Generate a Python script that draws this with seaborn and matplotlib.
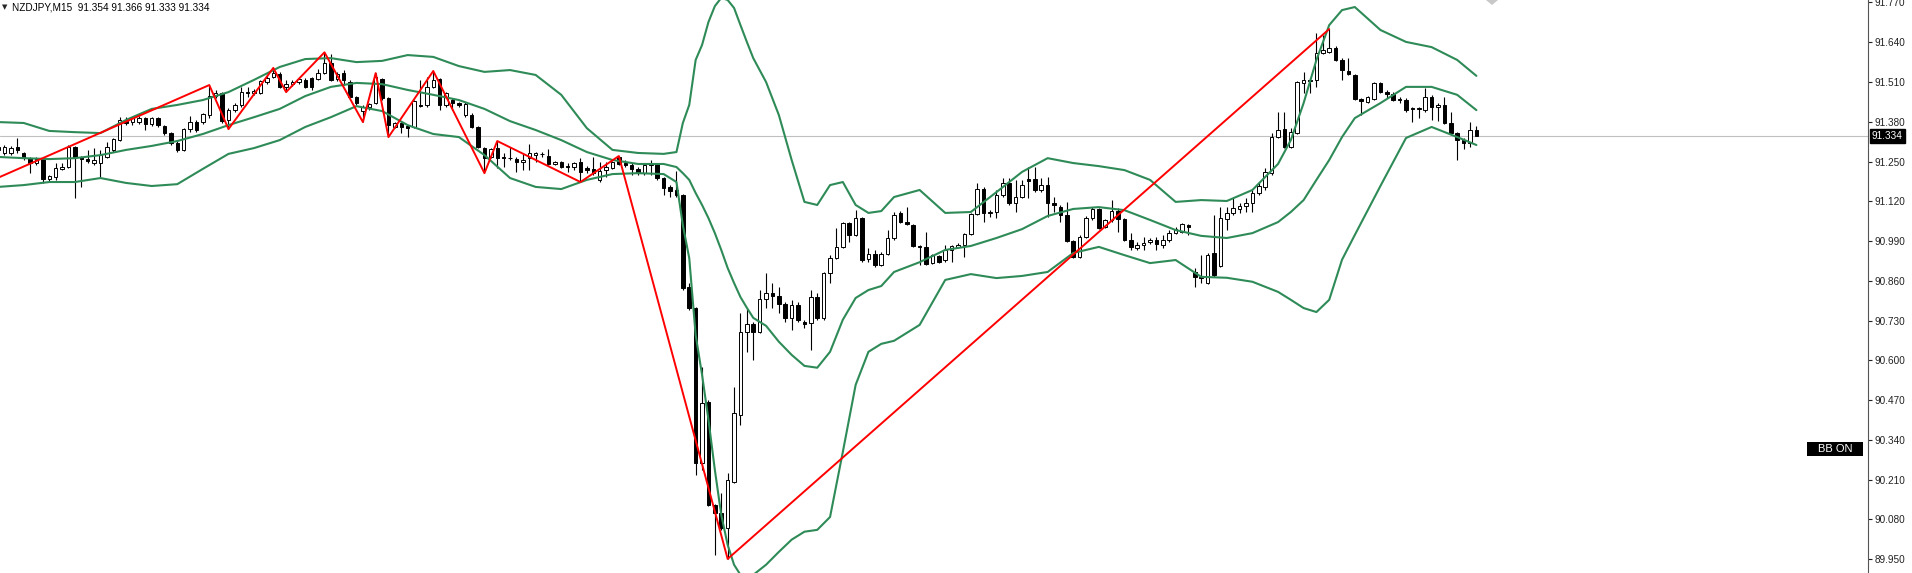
import matplotlib
matplotlib.use("Agg")
import numpy as np
import pandas as pd
import matplotlib.pyplot as plt
from matplotlib.patches import Rectangle, Polygon
import seaborn as sns

# chart header
symbol = "NZDJPY,M15"
last_ohlc = ["91.354", "91.366", "91.333", "91.334"]
last_price = 91.334
indicator_label = "BB ON"

# M15 candles, oldest first
opens = [
    91.288, 91.278, 91.278, 91.297, 91.278, 91.261, 91.245, 91.258, 91.193, 91.199,
    91.226, 91.232, 91.297, 91.265, 91.258, 91.245, 91.245, 91.265, 91.288, 91.320,
    91.382, 91.379, 91.379, 91.392, 91.373, 91.392, 91.366, 91.343, 91.310, 91.288,
    91.356, 91.379, 91.379, 91.402, 91.464, 91.474, 91.386, 91.418, 91.435, 91.477,
    91.474, 91.474, 91.510, 91.526, 91.536, 91.494, 91.503, 91.510, 91.517, 91.523,
    91.520, 91.539, 91.572, 91.520, 91.539, 91.510, 91.461, 91.415, 91.428, 91.441,
    91.520, 91.458, 91.363, 91.376, 91.366, 91.363, 91.435, 91.435, 91.494, 91.520,
    91.435, 91.451, 91.441, 91.402, 91.402, 91.363, 91.294, 91.265, 91.294, 91.265,
    91.261, 91.258, 91.248, 91.261, 91.271, 91.275, 91.268, 91.242, 91.248, 91.235,
    91.232, 91.248, 91.229, 91.226, 91.190, 91.222, 91.229, 91.265, 91.245, 91.239,
    91.226, 91.212, 91.239, 91.245, 91.196, 91.167, 91.157, 91.141, 90.840, 90.772,
    90.265, 90.464, 90.128, 90.102, 90.052, 90.203, 90.422, 90.693, 90.720, 90.693,
    90.800, 90.820, 90.810, 90.785, 90.739, 90.782, 90.726, 90.723, 90.807, 90.739,
    90.885, 90.934, 90.970, 91.049, 91.010, 91.065, 90.931, 90.948, 90.912, 90.948,
    91.000, 91.082, 91.052, 91.042, 90.974, 90.970, 90.918, 90.941, 90.928, 90.961,
    90.970, 90.977, 91.013, 91.078, 91.160, 91.082, 91.085, 91.141, 91.180, 91.114,
    91.134, 91.193, 91.193, 91.157, 91.173, 91.114, 91.101, 91.075, 90.990, 90.938,
    91.003, 91.065, 91.095, 91.036, 91.059, 91.088, 91.062, 90.993, 90.967, 90.977,
    90.987, 90.993, 90.977, 90.993, 91.016, 91.019, 91.042, 90.889, 90.873, 90.853,
    90.951, 90.908, 91.062, 91.082, 91.095, 91.104, 91.114, 91.147, 91.167, 91.212,
    91.330, 91.356, 91.297, 91.343, 91.507, 91.517, 91.517, 91.605, 91.608, 91.621,
    91.582, 91.546, 91.533, 91.454, 91.444, 91.454, 91.507, 91.477, 91.471, 91.454,
    91.451, 91.425, 91.425, 91.418, 91.461, 91.428, 91.435, 91.376, 91.343, 91.320,
    91.310, 91.354,
]
highs = [
    91.304, 91.304, 91.301, 91.327, 91.281, 91.265, 91.265, 91.261, 91.206, 91.245,
    91.245, 91.304, 91.301, 91.268, 91.288, 91.294, 91.288, 91.314, 91.327, 91.395,
    91.395, 91.395, 91.399, 91.395, 91.395, 91.395, 91.369, 91.346, 91.317, 91.359,
    91.399, 91.386, 91.409, 91.500, 91.484, 91.477, 91.425, 91.441, 91.494, 91.494,
    91.487, 91.517, 91.530, 91.556, 91.543, 91.517, 91.517, 91.526, 91.523, 91.526,
    91.553, 91.607, 91.600, 91.543, 91.549, 91.517, 91.464, 91.435, 91.441, 91.539,
    91.523, 91.461, 91.379, 91.379, 91.369, 91.451, 91.517, 91.526, 91.546, 91.523,
    91.477, 91.458, 91.444, 91.444, 91.409, 91.366, 91.297, 91.294, 91.317, 91.278,
    91.297, 91.265, 91.278, 91.307, 91.281, 91.281, 91.291, 91.252, 91.252, 91.245,
    91.248, 91.261, 91.235, 91.265, 91.248, 91.248, 91.252, 91.268, 91.255, 91.245,
    91.232, 91.245, 91.255, 91.246, 91.199, 91.173, 91.219, 91.144, 90.853, 90.775,
    90.579, 90.471, 90.131, 90.167, 90.232, 90.514, 90.755, 90.769, 90.726, 90.830,
    90.885, 90.853, 90.840, 90.791, 90.798, 90.791, 90.733, 90.830, 90.820, 90.889,
    90.944, 91.032, 91.052, 91.052, 91.091, 91.068, 90.967, 90.961, 90.954, 91.026,
    91.085, 91.088, 91.101, 91.046, 90.977, 91.019, 90.948, 90.944, 90.977, 90.977,
    90.983, 91.016, 91.082, 91.180, 91.167, 91.091, 91.157, 91.196, 91.196, 91.190,
    91.190, 91.232, 91.232, 91.196, 91.199, 91.134, 91.108, 91.118, 90.993, 91.010,
    91.072, 91.101, 91.098, 91.062, 91.124, 91.098, 91.065, 91.016, 90.987, 91.003,
    91.000, 91.003, 91.010, 91.026, 91.036, 91.049, 91.046, 90.902, 90.944, 90.951,
    91.075, 91.101, 91.101, 91.131, 91.114, 91.131, 91.157, 91.180, 91.229, 91.343,
    91.412, 91.412, 91.359, 91.513, 91.543, 91.523, 91.670, 91.664, 91.683, 91.628,
    91.588, 91.588, 91.536, 91.458, 91.463, 91.509, 91.509, 91.484, 91.477, 91.461,
    91.458, 91.428, 91.428, 91.490, 91.468, 91.441, 91.461, 91.412, 91.346, 91.327,
    91.379, 91.366,
]
lows = [
    91.281, 91.271, 91.271, 91.278, 91.255, 91.212, 91.239, 91.180, 91.186, 91.190,
    91.222, 91.229, 91.131, 91.167, 91.245, 91.239, 91.196, 91.261, 91.281, 91.317,
    91.369, 91.369, 91.373, 91.353, 91.366, 91.363, 91.337, 91.304, 91.281, 91.284,
    91.346, 91.346, 91.373, 91.392, 91.458, 91.376, 91.356, 91.412, 91.428, 91.461,
    91.468, 91.471, 91.503, 91.523, 91.490, 91.477, 91.497, 91.503, 91.490, 91.484,
    91.517, 91.536, 91.513, 91.513, 91.500, 91.458, 91.435, 91.379, 91.418, 91.438,
    91.451, 91.330, 91.359, 91.343, 91.330, 91.359, 91.428, 91.428, 91.490, 91.418,
    91.428, 91.418, 91.428, 91.395, 91.359, 91.294, 91.212, 91.261, 91.229, 91.232,
    91.255, 91.216, 91.222, 91.222, 91.248, 91.265, 91.239, 91.239, 91.229, 91.216,
    91.222, 91.183, 91.212, 91.206, 91.183, 91.199, 91.226, 91.239, 91.232, 91.206,
    91.206, 91.206, 91.206, 91.190, 91.141, 91.134, 91.134, 90.830, 90.765, 90.226,
    90.242, 90.124, 89.964, 90.046, 89.951, 90.200, 90.389, 90.628, 90.602, 90.690,
    90.772, 90.772, 90.755, 90.726, 90.700, 90.726, 90.706, 90.635, 90.733, 90.733,
    90.853, 90.931, 90.967, 90.987, 91.006, 90.921, 90.921, 90.905, 90.908, 90.944,
    90.993, 91.049, 91.042, 90.970, 90.912, 90.912, 90.915, 90.918, 90.921, 90.921,
    90.967, 90.938, 91.010, 91.075, 91.052, 91.068, 91.065, 91.134, 91.108, 91.085,
    91.131, 91.131, 91.150, 91.150, 91.068, 91.085, 91.052, 90.987, 90.934, 90.934,
    91.000, 91.059, 91.029, 91.032, 91.052, 91.019, 90.990, 90.961, 90.961, 90.961,
    90.980, 90.961, 90.967, 90.987, 91.013, 91.016, 91.010, 90.840, 90.853, 90.849,
    90.873, 90.905, 91.026, 91.075, 91.082, 91.085, 91.085, 91.141, 91.157, 91.206,
    91.327, 91.294, 91.294, 91.340, 91.474, 91.474, 91.494, 91.602, 91.605, 91.579,
    91.517, 91.533, 91.451, 91.402, 91.442, 91.451, 91.474, 91.458, 91.448, 91.441,
    91.412, 91.379, 91.392, 91.412, 91.386, 91.382, 91.374, 91.337, 91.255, 91.291,
    91.297, 91.333,
]
closes = [
    91.297, 91.297, 91.294, 91.288, 91.261, 91.245, 91.258, 91.193, 91.203, 91.229,
    91.232, 91.297, 91.265, 91.258, 91.252, 91.255, 91.271, 91.297, 91.324, 91.386,
    91.376, 91.392, 91.392, 91.373, 91.392, 91.369, 91.343, 91.310, 91.288, 91.356,
    91.379, 91.353, 91.405, 91.464, 91.474, 91.382, 91.418, 91.435, 91.477, 91.474,
    91.481, 91.513, 91.523, 91.539, 91.494, 91.503, 91.510, 91.520, 91.494, 91.494,
    91.539, 91.572, 91.517, 91.536, 91.517, 91.461, 91.441, 91.428, 91.438, 91.526,
    91.458, 91.369, 91.376, 91.363, 91.359, 91.448, 91.431, 91.494, 91.517, 91.435,
    91.474, 91.441, 91.435, 91.438, 91.363, 91.297, 91.261, 91.291, 91.261, 91.261,
    91.260, 91.248, 91.255, 91.278, 91.278, 91.274, 91.242, 91.248, 91.232, 91.232,
    91.245, 91.216, 91.222, 91.212, 91.219, 91.232, 91.248, 91.242, 91.239, 91.226,
    91.212, 91.239, 91.245, 91.196, 91.163, 91.154, 91.141, 90.836, 90.772, 90.265,
    90.461, 90.128, 90.102, 90.052, 90.210, 90.429, 90.693, 90.720, 90.693, 90.800,
    90.820, 90.810, 90.785, 90.739, 90.782, 90.733, 90.720, 90.807, 90.739, 90.885,
    90.934, 90.970, 91.049, 91.010, 91.065, 90.928, 90.948, 90.912, 90.948, 91.000,
    91.075, 91.052, 91.046, 90.974, 90.970, 90.915, 90.944, 90.921, 90.961, 90.974,
    90.977, 91.013, 91.078, 91.160, 91.082, 91.085, 91.141, 91.180, 91.114, 91.134,
    91.173, 91.186, 91.157, 91.173, 91.114, 91.108, 91.075, 90.990, 90.938, 91.003,
    91.065, 91.095, 91.032, 91.059, 91.088, 91.062, 90.993, 90.970, 90.977, 90.983,
    90.993, 90.980, 90.993, 91.016, 91.029, 91.046, 91.036, 90.873, 90.870, 90.944,
    90.879, 91.065, 91.082, 91.098, 91.104, 91.114, 91.147, 91.170, 91.216, 91.330,
    91.353, 91.297, 91.346, 91.510, 91.517, 91.513, 91.605, 91.615, 91.621, 91.582,
    91.549, 91.536, 91.454, 91.448, 91.461, 91.507, 91.477, 91.471, 91.451, 91.451,
    91.418, 91.422, 91.422, 91.461, 91.428, 91.435, 91.376, 91.343, 91.320, 91.310,
    91.353, 91.334,
]

# Bollinger bands at these bar numbers
band_idx = [
    0, 4, 8, 12, 16, 20, 24, 28, 32, 36, 40, 44, 48, 52, 56, 60, 64, 68, 72, 76,
    80, 84, 88, 92, 96, 100, 104, 106, 107, 108, 109, 110, 111, 112, 113, 114,
    115, 116, 117, 118, 120, 122, 124, 126, 128, 130, 132, 134, 136, 138, 140,
    144, 148, 152, 156, 160, 164, 168, 172, 176, 180, 184, 188, 192, 196, 200,
    202, 204, 206, 208, 210, 212, 216, 220, 224, 228, 231,
]
bb_upper = [
    91.379, 91.376, 91.350, 91.346, 91.343, 91.386, 91.422, 91.435, 91.451, 91.477,
    91.517, 91.559, 91.585, 91.588, 91.575, 91.579, 91.598, 91.592, 91.562, 91.543,
    91.549, 91.533, 91.468, 91.359, 91.288, 91.278, 91.275, 91.281, 91.376, 91.435,
    91.582, 91.631, 91.706, 91.758, 91.785, 91.778, 91.752, 91.696, 91.641, 91.588,
    91.510, 91.402, 91.255, 91.118, 91.108, 91.173, 91.183, 91.108, 91.082, 91.088,
    91.134, 91.157, 91.082, 91.085, 91.150, 91.216, 91.261, 91.245, 91.235, 91.222,
    91.190, 91.118, 91.124, 91.121, 91.157, 91.242, 91.320, 91.441, 91.582, 91.696,
    91.745, 91.755, 91.680, 91.641, 91.624, 91.582, 91.530,
]
bb_middle = [
    91.265, 91.261, 91.258, 91.261, 91.271, 91.288, 91.301, 91.317, 91.340, 91.369,
    91.395, 91.422, 91.464, 91.494, 91.507, 91.503, 91.484, 91.468, 91.451, 91.422,
    91.382, 91.353, 91.320, 91.281, 91.255, 91.242, 91.242, 91.232, 91.212, 91.190,
    91.147, 91.108, 91.065, 91.016, 90.961, 90.902, 90.853, 90.807, 90.772, 90.739,
    90.713, 90.661, 90.618, 90.582, 90.576, 90.628, 90.733, 90.804, 90.830, 90.843,
    90.889, 90.921, 90.961, 90.974, 91.000, 91.029, 91.072, 91.095, 91.101, 91.091,
    91.059, 91.026, 91.007, 91.000, 91.016, 91.052, 91.085, 91.124, 91.190, 91.255,
    91.330, 91.392, 91.441, 91.494, 91.494, 91.468, 91.418,
]
bb_lower = [
    91.167, 91.173, 91.183, 91.183, 91.196, 91.180, 91.170, 91.176, 91.226, 91.275,
    91.294, 91.320, 91.363, 91.395, 91.431, 91.415, 91.369, 91.340, 91.330, 91.271,
    91.196, 91.167, 91.160, 91.190, 91.209, 91.212, 91.209, 91.183, 91.042, 90.934,
    90.683, 90.553, 90.406, 90.242, 90.095, 89.997, 89.932, 89.899, 89.889, 89.899,
    89.932, 89.974, 90.014, 90.040, 90.046, 90.088, 90.301, 90.520, 90.628, 90.654,
    90.664, 90.716, 90.863, 90.882, 90.869, 90.876, 90.889, 90.951, 90.971, 90.944,
    90.918, 90.928, 90.873, 90.870, 90.857, 90.824, 90.798, 90.771, 90.758, 90.798,
    90.929, 91.010, 91.170, 91.327, 91.363, 91.330, 91.304,
]

# ZigZag turning points
zigzag_idx = [0, 33, 36, 43, 45, 51, 57, 59, 61, 68, 76, 78, 91, 97, 114, 208]
zigzag_price = [91.197, 91.500, 91.356, 91.556, 91.477, 91.607, 91.379, 91.539,
                91.330, 91.546, 91.212, 91.317, 91.183, 91.268, 89.951, 91.683]

price_ticks = [91.770, 91.640, 91.510, 91.380, 91.250, 91.120, 90.990, 90.860,
               90.730, 90.600, 90.470, 90.340, 90.210, 90.080, 89.950]

W, H = 1912, 573
PLOT_W = 1868
BAND_GREEN = "#2e8b57"
LABEL_SIZE = 7.2


def main():
    sns.set_theme(style="white")
    plt.rcParams["font.family"] = ["Liberation Sans", "DejaVu Sans"]

    fig = plt.figure(figsize=(W / 100, H / 100), dpi=100)
    ax = fig.add_axes([0, 0, PLOT_W / W, 1])

    df = pd.DataFrame({"open": opens, "high": highs, "low": lows, "close": closes})
    df["bar"] = np.arange(len(df))
    up = df["close"] >= df["open"]

    # current price line
    ax.axhline(last_price, color="#c0c0c0", lw=0.8, zorder=1)

    # candles: wicks then bodies
    ax.vlines(df["bar"], df["low"], df["high"], color="black", lw=0.8, zorder=2)
    body_low = df[["open", "close"]].min(axis=1)
    body_h = (df["close"] - df["open"]).abs().clip(lower=0.0008)
    ax.bar(df["bar"], body_h, bottom=body_low, width=0.55,
           color=np.where(up, "white", "black"), edgecolor="black",
           linewidth=0.7, zorder=3)

    # bollinger bands
    for band in (bb_upper, bb_middle, bb_lower):
        sns.lineplot(x=band_idx, y=band, ax=ax, color=BAND_GREEN, lw=1.5,
                     estimator=None, sort=False, legend=False, zorder=4)

    # zigzag
    sns.lineplot(x=zigzag_idx, y=zigzag_price, ax=ax, color="#ff0000", lw=1.4,
                 estimator=None, sort=False, legend=False, zorder=5)

    ax.set_xlim(0.297, 292.19)
    ax.set_ylim(89.905, 91.778)
    ax.set_xlabel("")
    ax.set_ylabel("")
    ax.set_xticks([])
    ax.yaxis.tick_right()
    ax.set_yticks(price_ticks)
    ax.set_yticklabels([f"{t:.3f}" for t in price_ticks])
    ax.tick_params(axis="y", direction="out", length=3, width=0.8, pad=2,
                   labelsize=LABEL_SIZE, colors="#222222")
    for side in ("top", "left", "bottom"):
        ax.spines[side].set_visible(False)
    ax.spines["right"].set_color("#555555")
    ax.spines["right"].set_linewidth(0.8)

    # last price box on the axis
    ax.annotate(f"{last_price:.3f}", xy=(1, last_price),
                xycoords=("axes fraction", "data"), xytext=(4, 0),
                textcoords="offset pixels", va="center", ha="left",
                color="white", fontsize=LABEL_SIZE, annotation_clip=False,
                bbox=dict(boxstyle="square,pad=0.2", fc="black", ec="black"))

    # header
    fig.text(2 / W, 1 - 7 / H, "\u25bc", fontsize=5, va="center", ha="left",
             family=["DejaVu Sans"])
    fig.text(12 / W, 1 - 7 / H, f"{symbol}  " + " ".join(last_ohlc),
             fontsize=LABEL_SIZE, va="center", ha="left", color="black")

    # "BB ON" tag
    fig.add_artist(Rectangle((1807 / W, 1 - 456 / H), 56 / W, 14 / H,
                             transform=fig.transFigure, fc="black", ec="none"))
    fig.text(1835 / W, 1 - 449 / H, indicator_label, fontsize=8, va="center",
             ha="center", color="white")

    # small shift marker at top
    fig.add_artist(Polygon([[1486 / W, 1.0], [1498 / W, 1.0], [1492 / W, 1 - 5 / H]],
                           closed=True, transform=fig.transFigure,
                           fc="#c8c8c8", ec="none"))

    fig.savefig("out.png", dpi=100)


if __name__ == "__main__":
    main()
